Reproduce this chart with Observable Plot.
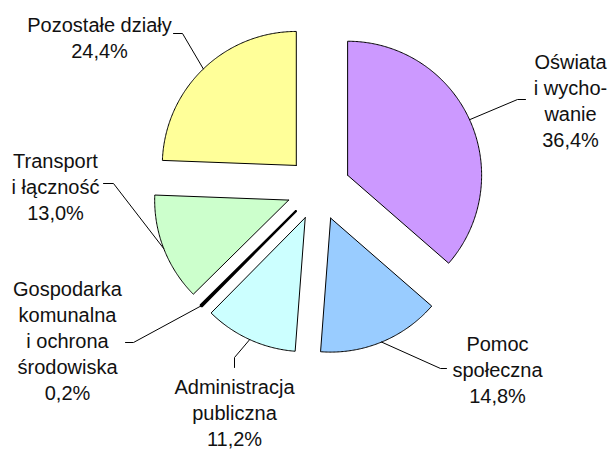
<!DOCTYPE html>
<html><head><meta charset="utf-8">
<script src="https://cdn.jsdelivr.net/npm/d3@7"></script>
<script src="https://cdn.jsdelivr.net/npm/@observablehq/plot@0.6"></script>
<style>body{margin:0;background:#fff}</style>
</head><body><div id="chart"></div>
<script>
// ---- data ----
const categories = ["Oświata i wychowanie","Pomoc społeczna","Administracja publiczna","Gospodarka komunalna i ochrona środowiska","Transport i łączność","Pozostałe działy"];
const labelLines = ["Oświata\ni wycho-\nwanie","Pomoc\nspołeczna","Administracja\npubliczna","Gospodarka\nkomunalna\ni ochrona\nśrodowiska","Transport\ni łączność","Pozostałe działy"];
const shares = [36.4, 14.8, 11.2, 0.2, 13.0, 24.4];
const colors = ["#CC99FF","#99CCFF","#CCFFFF","#000000","#CCFFCC","#FFFF99"];

// ---- layout ----
const W = 611, H = 449, cx = 318, cy = 188, R = 134, explode = 32;
const labelPos = [[570,99],[497,368],[234,411],[67,339],[55,185],[99,36]];
const elbows = [[[517,99],[525,99]],[[440,368],[446,368]],[[234,357],[234,367]],[[133,342],[125,342]],[[113,183],[103,183]],[[182,33],[173,33]]];

const arcs = d3.pie().sort(null).value(d => d)(shares);
const slicePts = [], leaderPts = [], textData = [];
arcs.forEach((a, i) => {
  const mid = (a.startAngle + a.endAngle) / 2;
  const ox = cx + explode * Math.sin(mid), oy = cy - explode * Math.cos(mid);
  const cat = categories[i];
  slicePts.push({cat, x: ox, y: oy});
  const n = Math.max(2, Math.ceil((a.endAngle - a.startAngle) / 0.01));
  for (let k = 0; k <= n; k++) {
    const t = a.startAngle + (a.endAngle - a.startAngle) * k / n;
    slicePts.push({cat, x: ox + R * Math.sin(t), y: oy - R * Math.cos(t)});
  }
  slicePts.push({cat, x: ox, y: oy});
  leaderPts.push({k: i, x: ox + R * Math.sin(mid), y: oy - R * Math.cos(mid)});
  elbows[i].forEach(p => leaderPts.push({k: i, x: p[0], y: p[1]}));
  textData.push({x: labelPos[i][0], y: labelPos[i][1],
    text: labelLines[i] + "\n" + shares[i].toFixed(1).replace(".", ",") + "%"});
});
const thin = categories[3];

const chart = Plot.plot({
  width: W, height: H, margin: 0,
  x: {type: "identity", axis: null}, y: {type: "identity", axis: null},
  color: {domain: categories, range: colors},
  marks: [
    Plot.line(slicePts.filter(d => d.cat !== thin), {x: "x", y: "y", z: "cat", fill: "cat", stroke: "black", strokeWidth: 1, strokeLinejoin: "miter"}),
    Plot.line(slicePts.filter(d => d.cat === thin), {x: "x", y: "y", z: "cat", fill: "cat", stroke: "black", strokeWidth: 2.2, strokeLinejoin: "bevel"}),
    Plot.line(leaderPts, {x: "x", y: "y", z: "k", stroke: "black", strokeWidth: 1}),
    Plot.text(textData, {x: "x", y: "y", text: "text", fontSize: 20, lineHeight: 1.3,
      fontFamily: "'Liberation Sans', Arial, sans-serif", fill: "#111", textAnchor: "middle", lineAnchor: "middle"})
  ]
});
document.getElementById("chart").appendChild(chart);
</script>
</body></html>
